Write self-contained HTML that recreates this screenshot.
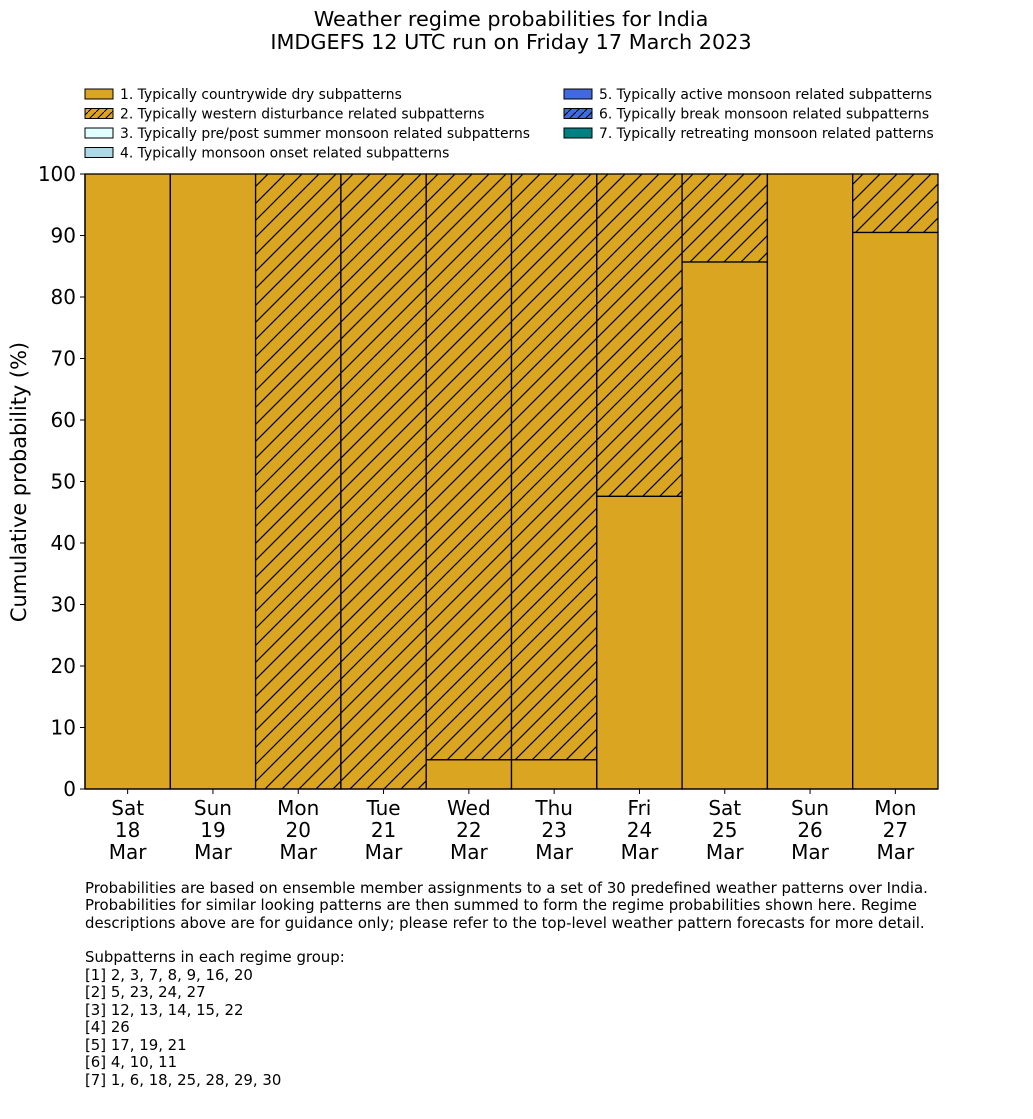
<!DOCTYPE html>
<html><head><meta charset="utf-8"><style>
body{margin:0;background:#fff;font-family:"Liberation Sans","DejaVu Sans",sans-serif}
</style></head><body>
<svg id="c" width="1033" height="1114" xmlns="http://www.w3.org/2000/svg" style="font-family:'DejaVu Sans','Liberation Sans',sans-serif">
<defs>
<pattern id="hatch" patternUnits="userSpaceOnUse" width="17" height="17" x="0" y="0">
<rect width="17" height="17" fill="#DAA520"/>
<path d="M-1,18 L18,-1 M-4,4 L4,-4 M13,21 L21,13" stroke="#000" stroke-width="1.2"/>
</pattern>
<pattern id="hatchb" patternUnits="userSpaceOnUse" width="8" height="8"><rect width="8" height="8" fill="#4169E1"/><path d="M-1,9 L9,-1" stroke="#000" stroke-width="1"/></pattern>
<pattern id="hatchl" patternUnits="userSpaceOnUse" width="8" height="8"><rect width="8" height="8" fill="#DAA520"/><path d="M-1,9 L9,-1" stroke="#000" stroke-width="1"/></pattern>
</defs>
<text x="511" y="26" text-anchor="middle" font-size="20.8">Weather regime probabilities for India</text>
<text x="511" y="49" text-anchor="middle" font-size="20.8">IMDGEFS 12 UTC run on Friday 17 March 2023</text>
<g id="legend" font-size="13.9"></g>
<g id="bars"></g>
<g id="axes"></g>
<text transform="translate(26,482) rotate(-90)" text-anchor="middle" font-size="20.9">Cumulative probability (%)</text>
<g font-size="14.9" font-family="'DejaVu Sans',sans-serif">
<text x="85" y="893">Probabilities are based on ensemble member assignments to a set of 30 predefined weather patterns over India.</text>
<text x="85" y="910">Probabilities for similar looking patterns are then summed to form the regime probabilities shown here. Regime</text>
<text x="85" y="928">descriptions above are for guidance only; please refer to the top-level weather pattern forecasts for more detail.</text>
<text x="85" y="962">Subpatterns in each regime group:</text>
<text x="85" y="980">[1] 2, 3, 7, 8, 9, 16, 20</text>
<text x="85" y="997">[2] 5, 23, 24, 27</text>
<text x="85" y="1015">[3] 12, 13, 14, 15, 22</text>
<text x="85" y="1032">[4] 26</text>
<text x="85" y="1050">[5] 17, 19, 21</text>
<text x="85" y="1067">[6] 4, 10, 11</text>
<text x="85" y="1085">[7] 1, 6, 18, 25, 28, 29, 30</text>
</g>
</svg>
<script>
const days=["Sat","Sun","Mon","Tue","Wed","Thu","Fri","Sat","Sun","Mon"];
const dates=["18","19","20","21","22","23","24","25","26","27"];
const dry=[100,100,0,0,4.76,4.76,47.6,85.7,100,90.5];
const wd=[0,0,100,100,95.24,95.24,52.4,14.3,0,9.5];
const yTicks=[0,10,20,30,40,50,60,70,80,90,100];
const legendLabels=["1. Typically countrywide dry subpatterns","2. Typically western disturbance related subpatterns","3. Typically pre/post summer monsoon related subpatterns","4. Typically monsoon onset related subpatterns","5. Typically active monsoon related subpatterns","6. Typically break monsoon related subpatterns","7. Typically retreating monsoon related patterns"];
const legendFills=["#DAA520","url(#hatchl)","#E0FFFF","#ADD8E6","#4169E1","url(#hatchb)","#008080"];
const NS="http://www.w3.org/2000/svg";
const X0=85,X1=938,Y0=789,Y1=174;
const bw=(X1-X0)/days.length;
const xs=i=>X0+i*bw;
const ys=v=>Y0-(v/100)*(Y0-Y1);
function el(t,a,p){const e=document.createElementNS(NS,t);for(const k in a)e.setAttribute(k,a[k]);p.appendChild(e);return e;}
const bars=document.getElementById('bars'),axes=document.getElementById('axes'),leg=document.getElementById('legend');
days.forEach((d,i)=>{
  if(dry[i]>0){const r=el('rect',{x:xs(i),y:ys(dry[i]),width:bw,height:ys(0)-ys(dry[i]),fill:'#DAA520',stroke:'#000','stroke-width':1.3},bars);
  
  }
  if(wd[i]>0){const r=el('rect',{x:xs(i),y:ys(dry[i]+wd[i]),width:bw,height:ys(dry[i])-ys(dry[i]+wd[i]),fill:'url(#hatch)',stroke:'#000','stroke-width':1.3},bars);
  
  }
  const cx=xs(i)+bw/2;
  el('line',{x1:cx,x2:cx,y1:Y0,y2:Y0+5,stroke:'#000'},axes);
  [d,dates[i],"Mar"].forEach((s,j)=>{const t=el('text',{x:cx,y:815+j*22,'text-anchor':'middle','font-size':20},axes);t.textContent=s;
  
  });
});
el('line',{x1:X0,x2:X0,y1:Y1,y2:Y0,stroke:'#000','stroke-width':1.3},axes);
el('line',{x1:X0,x2:X1,y1:Y0,y2:Y0,stroke:'#000','stroke-width':1.3},axes);
yTicks.forEach(v=>{el('line',{x1:X0-5,x2:X0,y1:ys(v),y2:ys(v),stroke:'#000'},axes);
 const t=el('text',{x:X0-9,y:ys(v)+7,'text-anchor':'end','font-size':20},axes);t.textContent=v;
 
 });
legendLabels.forEach((s,i)=>{const col=i<4?0:1,row=i<4?i:i-4;
 const x=col?564:85,y=89+row*19.5;
 const r=el('rect',{x:x,y:y,width:28,height:10,fill:legendFills[i],stroke:'#000'},leg);
 
 
 const t=el('text',{x:x+35,y:y+10},leg);t.textContent=s;
 
 });
</script>
</body></html>
